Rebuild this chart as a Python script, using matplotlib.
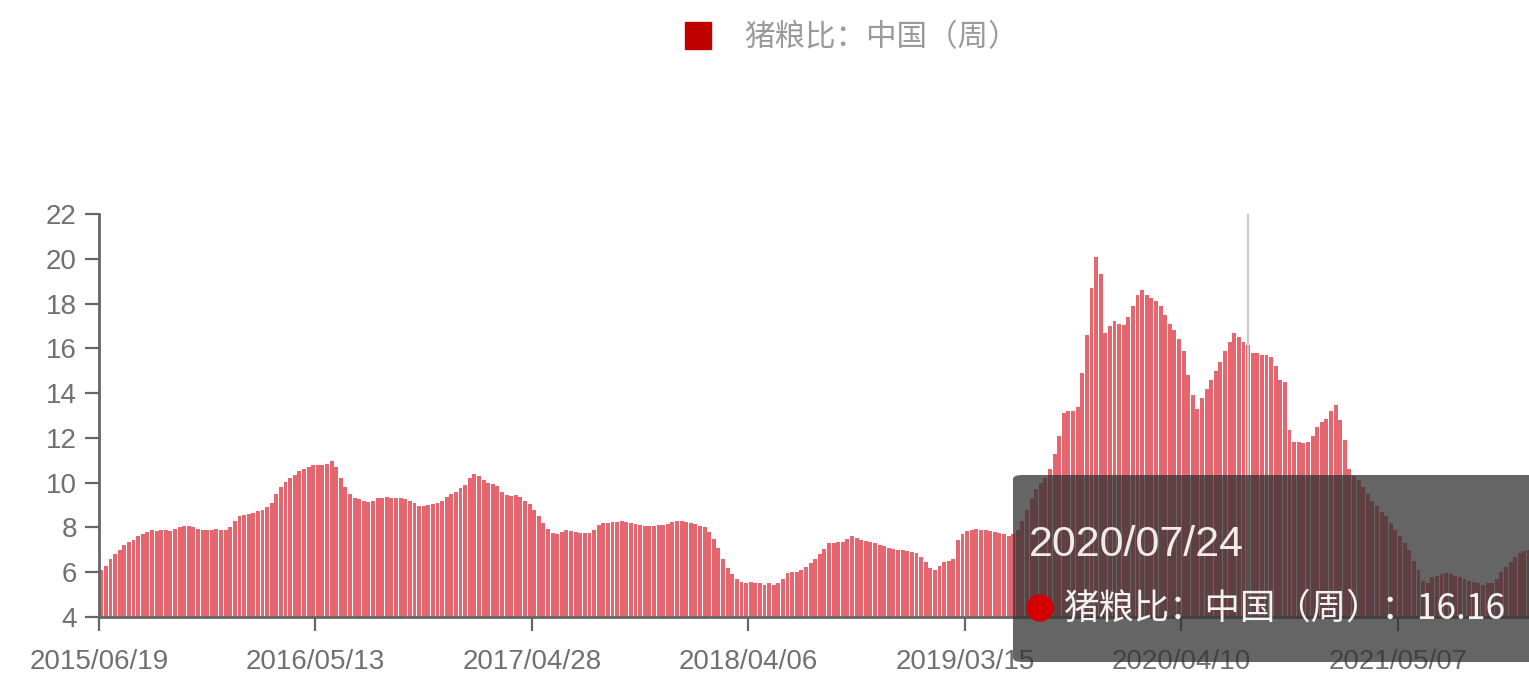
import matplotlib
matplotlib.use("Agg")
import matplotlib.pyplot as plt
from matplotlib import font_manager
from matplotlib.patches import Ellipse, FancyBboxPatch, Patch

SERIES_NAME = "猪粮比：中国（周）"

# weekly pig/grain ratio, one value per category
ratio = [
    6.1, 6.3, 6.6, 6.8, 7.0, 7.2, 7.35, 7.45, 7.6, 7.7,
    7.8, 7.9, 7.85, 7.9, 7.9, 7.85, 7.95, 8.0, 8.05, 8.05,
    8.0, 7.95, 7.9, 7.9, 7.9, 7.95, 7.9, 7.9, 8.0, 8.3,
    8.5, 8.55, 8.6, 8.65, 8.75, 8.8, 8.9, 9.1, 9.5, 9.8,
    10.05, 10.2, 10.35, 10.5, 10.6, 10.7, 10.8, 10.8, 10.8, 10.85,
    10.95, 10.7, 10.2, 9.8, 9.5, 9.3, 9.25, 9.2, 9.15, 9.2,
    9.3, 9.3, 9.35, 9.3, 9.3, 9.3, 9.25, 9.2, 9.1, 8.95,
    8.95, 9.0, 9.05, 9.1, 9.2, 9.35, 9.5, 9.6, 9.75, 9.9,
    10.2, 10.4, 10.3, 10.1, 10.0, 9.95, 9.85, 9.6, 9.45, 9.4,
    9.45, 9.35, 9.2, 9.05, 8.8, 8.5, 8.2, 7.95, 7.75, 7.7,
    7.8, 7.9, 7.85, 7.8, 7.75, 7.75, 7.75, 7.9, 8.1, 8.2,
    8.2, 8.25, 8.25, 8.3, 8.25, 8.2, 8.15, 8.1, 8.05, 8.05,
    8.05, 8.1, 8.1, 8.15, 8.25, 8.3, 8.3, 8.25, 8.2, 8.15,
    8.05, 8.0, 7.8, 7.5, 7.1, 6.6, 6.2, 5.9, 5.7, 5.55,
    5.5, 5.55, 5.5, 5.5, 5.45, 5.5, 5.45, 5.5, 5.7, 5.95,
    6.0, 6.0, 6.1, 6.25, 6.4, 6.6, 6.8, 7.05, 7.3, 7.3,
    7.35, 7.35, 7.5, 7.6, 7.55, 7.45, 7.4, 7.35, 7.3, 7.2,
    7.15, 7.1, 7.05, 7.0, 7.0, 6.95, 6.9, 6.85, 6.7, 6.45,
    6.2, 6.1, 6.3, 6.45, 6.5, 6.6, 7.45, 7.7, 7.85, 7.9,
    7.95, 7.9, 7.9, 7.85, 7.8, 7.75, 7.7, 7.6, 7.7, 7.9,
    8.3, 8.8, 9.3, 9.7, 10.0, 10.2, 10.6, 11.3, 12.1, 13.1,
    13.2, 13.2, 13.4, 14.9, 16.6, 18.7, 20.1, 19.3, 16.7, 17.0,
    17.2, 17.1, 17.05, 17.4, 17.9, 18.4, 18.6, 18.4, 18.25, 18.1,
    17.9, 17.5, 17.1, 16.8, 16.4, 15.9, 14.8, 13.9, 13.3, 13.8,
    14.2, 14.6, 15.0, 15.4, 15.9, 16.3, 16.7, 16.5, 16.3, 16.16,
    15.8, 15.8, 15.7, 15.7, 15.6, 15.2, 14.6, 14.5, 12.35, 11.8,
    11.8, 11.75, 11.8, 12.1, 12.5, 12.7, 12.85, 13.2, 13.45, 12.8,
    11.9, 10.6, 10.3, 10.1, 9.8, 9.5, 9.2, 8.95, 8.7, 8.5,
    8.2, 7.9, 7.6, 7.3, 7.0, 6.5, 6.1, 5.6, 5.5, 5.8,
    5.85, 5.9, 5.95, 5.9, 5.85, 5.8, 5.7, 5.6, 5.55, 5.5,
    5.45, 5.5, 5.5, 5.7, 6.0, 6.25, 6.45, 6.7, 6.85, 6.95,
    7.0,
]

x_labels = ["2015/06/19", "2016/05/13", "2017/04/28", "2018/04/06",
            "2019/03/15", "2020/04/10", "2021/05/07"]
label_step = 47
y_ticks = [4, 6, 8, 10, 12, 14, 16, 18, 20, 22]

hover_index = 249
hover_date = "2020/07/24"

BAR_RED = "#e6666f"
SERIES_RED = "#c00000"
AXIS_GREY = "#666666"
LABEL_GREY = "#707070"
CJK = "Noto Sans CJK SC"

installed = {f.name for f in font_manager.fontManager.ttflist}
if "Liberation Sans Narrow" in installed:
    LATIN = "Liberation Sans Narrow"
    tick_size, date_size = 23, 36
else:
    LATIN = "Liberation Sans"
    tick_size, date_size = 20, 31

W, H = 1529, 683
fig = plt.figure(figsize=(W / 100, H / 100), dpi=100)
ax = fig.add_axes([99 / W, 66 / H, 1430 / W, 403 / H])

idx = list(range(len(ratio)))
ax.bar(idx, ratio, width=0.85, color=BAR_RED, linewidth=0, zorder=2)

ax.set_ylim(4, 22)
ax.set_xlim(-0.5, 310)
ax.set_yticks(y_ticks)
ax.set_xticks([k * label_step - 0.5 for k in range(len(x_labels))])
ax.set_xticklabels(x_labels)

for side in ["top", "right"]:
    ax.spines[side].set_visible(False)
for side in ["left", "bottom"]:
    ax.spines[side].set_color(AXIS_GREY)
    ax.spines[side].set_linewidth(2)
ax.tick_params(axis="both", direction="out", length=10, width=1.6,
               color=AXIS_GREY, labelcolor=LABEL_GREY, labelsize=tick_size)
ax.tick_params(axis="x", pad=13)
ax.tick_params(axis="y", pad=6)
for lab in ax.get_xticklabels() + ax.get_yticklabels():
    lab.set_family(LATIN)

# hover guide line
ax.axvline(hover_index, color="#c8c8c8", linewidth=1.5, zorder=3)

# legend at the top
handle = Patch(facecolor=SERIES_RED, edgecolor=SERIES_RED)
leg = fig.legend([handle], [SERIES_NAME], loc="center",
                 bbox_to_anchor=(0.557, 0.945), frameon=False,
                 handlelength=0.85, handleheight=0.95, handletextpad=1.1,
                 prop={"family": [CJK, "DejaVu Sans"], "size": 22})
for t in leg.get_texts():
    t.set_color("#9a9a9a")

# tooltip box
tip = FancyBboxPatch((1013 / W, 21 / H), 560 / W, 187 / H,
                     boxstyle="round,pad=0,rounding_size=0.006",
                     transform=fig.transFigure, facecolor="#323232",
                     edgecolor="none", alpha=0.75, zorder=5)
fig.add_artist(tip)
fig.text(1029 / W, (H - 556) / H, hover_date, color="#f2eaea",
         fontsize=date_size, family=LATIN, va="baseline", zorder=6)
dot = Ellipse((1040 / W, (H - 608) / H), 26 / W, 26 / H,
              transform=fig.transFigure, color="#d40000", zorder=6)
fig.add_artist(dot)
fig.text(1064 / W, (H - 609) / H, f"{SERIES_NAME}：{ratio[hover_index]:.2f}",
         color="#f2f2f2", fontsize=25.5, family=[CJK, "DejaVu Sans"],
         va="center", zorder=6)

fig.savefig("out.png", dpi=100)
